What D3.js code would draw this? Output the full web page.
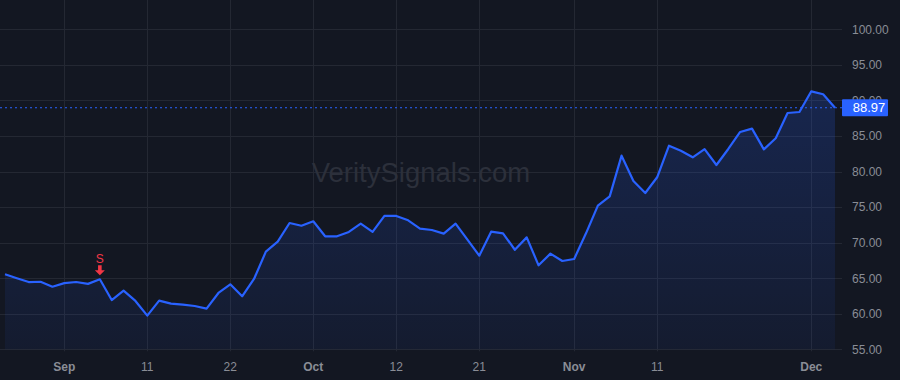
<!DOCTYPE html>
<html>
<head>
<meta charset="utf-8">
<script src="https://cdn.jsdelivr.net/npm/d3@7"></script>
<style>
  html, body { margin: 0; padding: 0; background: #131722; }
  svg { display: block; }
  text { font-family: "Liberation Sans", Arial, sans-serif; }
</style>
</head>
<body>
<div id="chart"></div>
<script>
// Datos

const prices = [
  65.55, 65.0, 64.46, 64.5, 63.8, 64.3, 64.46, 64.2, 64.85, 61.93,
  63.25, 61.8, 59.73, 61.84, 61.42, 61.28, 61.09, 60.71, 62.92, 64.14,
  62.45, 64.89, 68.73, 70.13, 72.76, 72.38, 73.0, 70.89, 70.89, 71.5,
  72.66, 71.5, 73.75, 73.75, 73.14, 71.98, 71.78, 71.26, 72.67, 70.42,
  68.17, 71.54, 71.31, 69.0, 70.74, 66.81, 68.45, 67.42, 67.7, 71.31,
  75.2, 76.51, 82.23, 78.67, 76.98, 79.19, 83.63, 82.93, 82.0, 83.15,
  80.92, 83.17, 85.56, 86.03, 83.12, 84.67, 88.23, 88.37, 91.28, 90.86,
  88.97
]
const xTickIndex = [5, 12, 19, 26, 33, 40, 48, 55, 68]
const xTickLabels = ["Sep", "11", "22", "Oct", "12", "21", "Nov", "11", "Dec"]
const monthLabels = ["Sep", "Oct", "Nov", "Dec"]
const yTicks = [55, 60, 65, 70, 75, 80, 85, 90, 95, 100]
const signalIndex = 8
const signalLabel = "S"
const lastPrice = 88.97
const watermark = "VeritySignals.com"

// Constantes

const width = 900
const height = 380
const plotRight = 842
const plotBottom = 349.3

const svg = d3.select("#chart").append("svg").attr("width", width).attr("height", height)

svg.append("rect").attr("width", width).attr("height", height).attr("fill", "#131722")

// Escalas

const x = d3.scaleLinear().domain([0, prices.length - 1]).range([5, 835])
const y = d3.scaleLinear().domain([55, 100]).range([plotBottom, 29.3])

// Rejilla

const gridGroup = svg.append("g").attr("id", "gridGroup")
gridGroup.selectAll("line.h").data(yTicks)
  .join("line").attr("class", "h")
    .attr("x1", 0).attr("x2", plotRight)
    .attr("y1", d => Math.round(y(d)) + 0.5).attr("y2", d => Math.round(y(d)) + 0.5)
    .attr("stroke", "#242833").attr("stroke-width", 1)
gridGroup.selectAll("line.v").data(xTickIndex)
  .join("line").attr("class", "v")
    .attr("x1", d => Math.round(x(d)) + 0.5).attr("x2", d => Math.round(x(d)) + 0.5)
    .attr("y1", 0).attr("y2", plotBottom + 2)
    .attr("stroke", "#242833").attr("stroke-width", 1)

// Marca de agua

svg.append("text")
  .attr("x", 421).attr("y", 182)
  .attr("text-anchor", "middle")
  .style("font-size", "27.5px")
  .attr("fill", "#2c303b")
  .text(watermark)

// Área y línea

const defs = svg.append("defs")
const grad = defs.append("linearGradient").attr("id", "areaGrad")
  .attr("x1", 0).attr("y1", 0).attr("x2", 0).attr("y2", 1)
grad.append("stop").attr("offset", "0%").attr("stop-color", "#2962ff").attr("stop-opacity", 0.2)
grad.append("stop").attr("offset", "100%").attr("stop-color", "#2962ff").attr("stop-opacity", 0.06)

const area = d3.area().x((d, i) => x(i)).y0(plotBottom).y1(d => y(d))
const line = d3.line().x((d, i) => x(i)).y(d => y(d))

svg.append("path").datum(prices).attr("d", area).attr("fill", "url(#areaGrad)")

// Línea de último precio

svg.append("line")
  .attr("x1", 0).attr("x2", plotRight)
  .attr("y1", y(lastPrice)).attr("y2", y(lastPrice))
  .attr("stroke", "#2962ff").attr("stroke-width", 1).attr("stroke-dasharray", "2,3")

svg.append("path").datum(prices).attr("d", line)
  .attr("fill", "none").attr("stroke", "#2962ff").attr("stroke-width", 2.2)
  .attr("stroke-linejoin", "round")

// Ejes (la etiqueta 90.00 queda medio tapada por la etiqueta de precio, como en el original)

const yAxis = d3.axisRight(y).tickValues(yTicks)
  .tickFormat(d3.format(".2f")).tickSize(0).tickPadding(10)
const yAxisGroup = svg.append("g").attr("id", "yAxisGroup").attr("transform", `translate(${plotRight},0)`).call(yAxis)
yAxisGroup.select(".domain").remove()
yAxisGroup.selectAll("text").attr("fill", "#8a8d96").style("font-size", "12px")
  .style("font-family", "'Liberation Sans', Arial, sans-serif")

const xAxisGroup = svg.append("g").attr("id", "xAxisGroup")
xAxisGroup.selectAll("text").data(xTickIndex)
  .join("text")
    .attr("x", d => x(d))
    .attr("y", 371)
    .attr("text-anchor", "middle")
    .style("font-size", "12px")
    .style("font-weight", (d, i) => monthLabels.includes(xTickLabels[i]) ? "bold" : "normal")
    .attr("fill", "#8a8d96")
    .text((d, i) => xTickLabels[i])

// Etiqueta de precio

const priceGroup = svg.append("g").attr("transform", `translate(${plotRight},${y(lastPrice)})`)
priceGroup.append("rect").attr("x", 0).attr("y", -8.5).attr("width", 46).attr("height", 17)
  .attr("rx", 1).attr("fill", "#2962ff")
priceGroup.append("text").attr("x", 27).attr("y", 4.7).attr("text-anchor", "middle")
  .style("font-size", "13px").attr("fill", "#ffffff").text(d3.format(".2f")(lastPrice))

// Señal

const sx = x(signalIndex)
const sy = y(prices[signalIndex])
const signal = svg.append("g").attr("fill", "#f23645")
signal.append("text").attr("x", sx).attr("y", sy - 16).attr("text-anchor", "middle")
  .style("font-size", "12px").text(signalLabel)
signal.append("path")
  .attr("d", `M${sx - 1.8},${sy - 14} L${sx + 1.8},${sy - 14} L${sx + 1.8},${sy - 9} L${sx + 5},${sy - 9} L${sx},${sy - 4} L${sx - 5},${sy - 9} L${sx - 1.8},${sy - 9} Z`)
</script>
</body>
</html>
